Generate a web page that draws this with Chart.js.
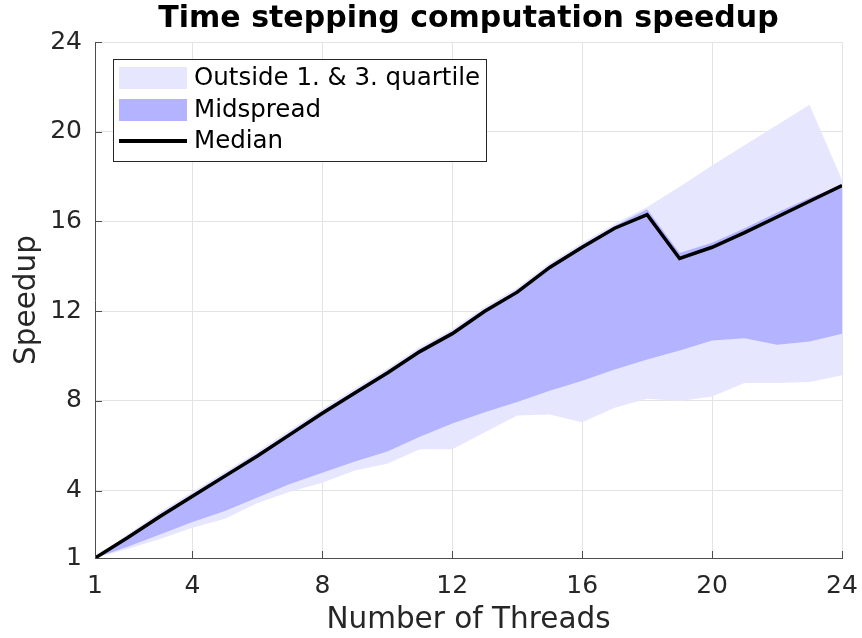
<!DOCTYPE html>
<html lang="en">
<head>
    <meta charset="UTF-8">
    <title>Time stepping computation speedup</title>
    <style>
        body { margin: 0; background: #fff; }
        canvas { display: block; }
    </style>
</head>
<body>
    <canvas id="speedupChart" width="862" height="638"></canvas>

    <script src="https://cdn.jsdelivr.net/npm/chart.js"></script>
    <script>
        // Values
        const threads = [1, 2, 3, 4, 5, 6, 7, 8, 9, 10, 11, 12, 13, 14, 15, 16, 17, 18, 19, 20, 21, 22, 23, 24];
        const medianSpeedup = [1, 1.9, 2.85, 3.75, 4.65, 5.55, 6.5, 7.45, 8.35, 9.25, 10.2, 11.0, 12.0, 12.85, 13.95, 14.85, 15.7, 16.3, 14.35, 14.85, 15.5, 16.2, 16.9, 17.6];
        const q3Speedup = [1, 1.95, 2.95, 3.85, 4.75, 5.65, 6.6, 7.55, 8.45, 9.35, 10.3, 11.1, 12.1, 12.95, 14.05, 14.95, 15.8, 16.55, 14.6, 15.05, 15.7, 16.4, 17.05, 17.65];
        const q1Speedup = [1, 1.5, 2.05, 2.6, 3.1, 3.7, 4.3, 4.8, 5.3, 5.75, 6.4, 7.0, 7.5, 7.95, 8.45, 8.9, 9.4, 9.85, 10.25, 10.7, 10.8, 10.5, 10.65, 11.0];
        const maxSpeedup = [1, 2.05, 3.05, 3.95, 4.85, 5.75, 6.7, 7.65, 8.55, 9.45, 10.4, 11.2, 12.2, 13.05, 14.15, 15.05, 15.9, 16.65, 17.55, 18.5, 19.4, 20.3, 21.2, 17.85];
        const minSpeedup = [1, 1.4, 1.85, 2.35, 2.75, 3.45, 3.95, 4.35, 4.9, 5.2, 5.85, 5.85, 6.6, 7.35, 7.4, 7.05, 7.7, 8.1, 8.0, 8.2, 8.8, 8.8, 8.85, 9.15];

        const xTicks = [1, 4, 8, 12, 16, 20, 24];
        const yTicks = [1, 4, 8, 12, 16, 20, 24];

        const lightBlue = '#e6e6ff';
        const midBlue = '#b3b3ff';
        const textColor = '#262626';
        const fontFamily = '"DejaVu Sans", sans-serif';

        function points(values) {
            return threads.map((t, i) => ({ x: t, y: values[i] }));
        }

        function band(label, values, color, fillTo) {
            return {
                label: label,
                data: points(values),
                borderWidth: 0,
                pointRadius: 0,
                backgroundColor: color,
                borderColor: color,
                fill: fillTo
            };
        }

        // Title, legend and inward tick marks drawn like the MATLAB figure
        const matlabDecor = {
            id: 'matlabDecor',
            afterDraw(chart) {
                const ctx = chart.ctx;
                const area = chart.chartArea;
                const xs = chart.scales.x;
                const ys = chart.scales.y;

                ctx.save();
                // inward ticks
                ctx.strokeStyle = '#4d4d4d';
                ctx.lineWidth = 1;
                ctx.beginPath();
                xTicks.forEach(t => {
                    const px = Math.round(xs.getPixelForValue(t)) + 0.5;
                    ctx.moveTo(px, area.bottom);
                    ctx.lineTo(px, area.bottom - 7);
                });
                yTicks.forEach(t => {
                    const py = Math.round(ys.getPixelForValue(t)) + 0.5;
                    ctx.moveTo(area.left, py);
                    ctx.lineTo(area.left + 7, py);
                });
                ctx.stroke();

                // title
                ctx.fillStyle = '#000';
                ctx.font = 'bold 30px ' + fontFamily;
                ctx.textAlign = 'center';
                ctx.textBaseline = 'middle';
                ctx.fillText('Time stepping computation speedup', (area.left + area.right) / 2, 19);

                // legend box
                const bx = 113, by = 59, bw = 373, bh = 102;
                ctx.fillStyle = '#fff';
                ctx.fillRect(bx, by, bw, bh);
                ctx.strokeStyle = '#262626';
                ctx.lineWidth = 1;
                ctx.strokeRect(bx + 0.5, by + 0.5, bw, bh);

                const rows = [
                    { ds: chart.data.datasets[3], kind: 'box', color: lightBlue, y: 78 },
                    { ds: chart.data.datasets[1], kind: 'box', color: midBlue, y: 110 },
                    { ds: chart.data.datasets[0], kind: 'line', color: '#000', y: 141 }
                ];
                ctx.font = '24.5px ' + fontFamily;
                ctx.textAlign = 'left';
                rows.forEach(r => {
                    if (r.kind === 'box') {
                        ctx.fillStyle = r.color;
                        ctx.fillRect(119, r.y - 11, 68, 22);
                    } else {
                        ctx.strokeStyle = r.color;
                        ctx.lineWidth = 4;
                        ctx.beginPath();
                        ctx.moveTo(119, r.y);
                        ctx.lineTo(187, r.y);
                        ctx.stroke();
                    }
                    ctx.fillStyle = '#000';
                    ctx.fillText(r.ds.label, 194, r.y + 1);
                });
                ctx.restore();
            }
        };

        const ctx = document.getElementById('speedupChart').getContext('2d');
        const speedupChart = new Chart(ctx, {
            type: 'line',
            data: {
                datasets: [
                    {
                        label: 'Median',
                        data: points(medianSpeedup),
                        borderColor: '#000',
                        borderWidth: 3.5,
                        pointRadius: 0,
                        fill: false,
                        borderJoinStyle: 'miter'
                    },
                    band('Midspread', q3Speedup, midBlue, 2),
                    band('First quartile', q1Speedup, midBlue, false),
                    band('Outside 1. & 3. quartile', maxSpeedup, lightBlue, 4),
                    band('Minimum', minSpeedup, lightBlue, false)
                ]
            },
            options: {
                responsive: false,
                animation: false,
                layout: { padding: { top: 42, right: 20, left: 0, bottom: 0 } },
                plugins: {
                    legend: { display: false },
                    title: { display: false },
                    tooltip: { enabled: false }
                },
                scales: {
                    x: {
                        type: 'linear',
                        min: 1,
                        max: 24,
                        afterBuildTicks: scale => { scale.ticks = xTicks.map(v => ({ value: v })); },
                        afterFit: scale => {
                            scale.height = 80;
                            scale.paddingLeft = 0;
                            scale.paddingRight = 0;
                        },
                        grid: { color: '#e3e3e3', drawTicks: false },
                        border: { display: true, color: '#4d4d4d', width: 1 },
                        ticks: {
                            color: textColor,
                            padding: 13,
                            maxRotation: 0,
                            font: { family: fontFamily, size: 25 }
                        },
                        title: {
                            display: true,
                            text: 'Number of Threads',
                            color: textColor,
                            padding: { top: 0, bottom: 0 },
                            font: { family: fontFamily, size: 29.5 }
                        }
                    },
                    y: {
                        type: 'linear',
                        min: 1,
                        max: 24,
                        afterBuildTicks: scale => { scale.ticks = yTicks.map(v => ({ value: v })); },
                        afterFit: scale => {
                            scale.width = 95;
                            scale.paddingTop = 0;
                            scale.paddingBottom = 0;
                        },
                        grid: { color: '#e3e3e3', drawTicks: false },
                        border: { display: true, color: '#4d4d4d', width: 1 },
                        ticks: {
                            color: textColor,
                            padding: 13,
                            font: { family: fontFamily, size: 25 }
                        },
                        title: {
                            display: true,
                            text: 'Speedup',
                            color: textColor,
                            padding: { top: 10, bottom: 0 },
                            font: { family: fontFamily, size: 29.5 }
                        }
                    }
                }
            },
            plugins: [matlabDecor]
        });
    </script>
</body>
</html>
